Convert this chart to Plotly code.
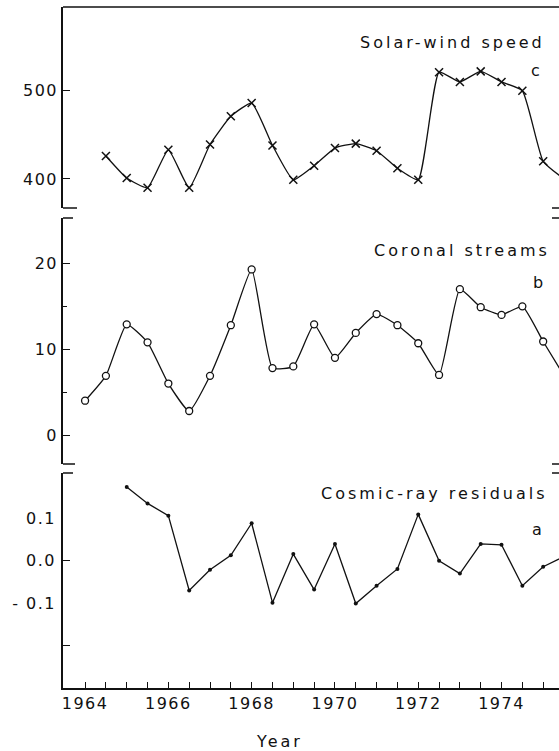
import plotly.graph_objects as go

# ---------------- data ----------------
solar_years = [1964.5, 1965.0, 1965.5, 1966.0, 1966.5, 1967.0, 1967.5, 1968.0, 1968.5,
               1969.0, 1969.5, 1970.0, 1970.5, 1971.0, 1971.5, 1972.0, 1972.5, 1973.0,
               1973.5, 1974.0, 1974.5, 1975.0, 1975.5]
solar_speed = [426, 401, 390, 433, 390, 439, 471, 486, 438,
               399, 415, 435, 440, 432, 412, 399, 521, 510,
               522, 510, 500, 420, 400]

coronal_years = [1964.0, 1964.5, 1965.0, 1965.5, 1966.0, 1966.5, 1967.0, 1967.5, 1968.0,
                 1968.5, 1969.0, 1969.5, 1970.0, 1970.5, 1971.0, 1971.5, 1972.0, 1972.5,
                 1973.0, 1973.5, 1974.0, 1974.5, 1975.0, 1975.5]
coronal_streams = [4.0, 6.9, 12.9, 10.8, 6.0, 2.8, 6.9, 12.8, 19.3,
                   7.8, 8.0, 12.9, 9.0, 11.9, 14.1, 12.8, 10.7, 7.0,
                   17.0, 14.9, 14.0, 15.0, 10.9, 6.9]

cosmic_years = [1965.0, 1965.5, 1966.0, 1966.5, 1967.0, 1967.5, 1968.0, 1968.5, 1969.0,
                1969.5, 1970.0, 1970.5, 1971.0, 1971.5, 1972.0, 1972.5, 1973.0, 1973.5,
                1974.0, 1974.5, 1975.0, 1975.5]
cosmic_residuals = [0.175, 0.136, 0.107, -0.070, -0.021, 0.013, 0.089, -0.099, 0.016,
                    -0.068, 0.040, -0.101, -0.059, -0.019, 0.110, 0.000, -0.030, 0.040,
                    0.038, -0.059, -0.014, 0.010]

x_tickvals = [1964 + 0.5 * i for i in range(24)]
x_labels = ["1964", "1966", "1968", "1970", "1972", "1974"]

solar_ticks = [400, 500]
coronal_ticks = [0, 10, 20]
coronal_minor = [5, 15]
cosmic_tick_marks = [-0.2, 0.0]
cosmic_label_vals = [-0.1, 0.0, 0.1]
cosmic_label_text = ["- 0.1", "0.0", "0.1"]

FONT = "DejaVu Sans"
INK = "#111111"
TS = '<span style="letter-spacing:1.5px">%s</span>'
AS = '<span style="letter-spacing:3px">%s</span>'

def tlab(v):
    s = str(int(v)) if v == int(v) else str(v)
    return TS % s

x_ticktext = [TS % str(int(v)) if (v == int(v) and str(int(v)) in x_labels) else ""
              for v in x_tickvals]

fig = go.Figure()

fig.add_trace(go.Scatter(
    x=solar_years, y=solar_speed, xaxis="x", yaxis="y3", mode="lines+markers",
    line=dict(color=INK, width=1.3, shape="spline", smoothing=0.45),
    marker=dict(symbol="x-thin", size=8, line=dict(color=INK, width=1.5)),
    showlegend=False, cliponaxis=True))

fig.add_trace(go.Scatter(
    x=coronal_years, y=coronal_streams, xaxis="x", yaxis="y2", mode="lines+markers",
    line=dict(color=INK, width=1.3, shape="spline", smoothing=0.45),
    marker=dict(symbol="circle", size=7, color="white", line=dict(color=INK, width=1.3)),
    showlegend=False, cliponaxis=True))

fig.add_trace(go.Scatter(
    x=cosmic_years, y=cosmic_residuals, xaxis="x", yaxis="y", mode="lines+markers",
    line=dict(color=INK, width=1.3),
    marker=dict(symbol="circle", size=4, color=INK),
    showlegend=False, cliponaxis=True))

# invisible companion on the label-only overlay axis of the cosmic-ray panel
fig.add_trace(go.Scatter(
    x=cosmic_years, y=cosmic_residuals, xaxis="x", yaxis="y4", mode="markers",
    marker=dict(size=1, opacity=0), hoverinfo="skip", showlegend=False))

PW, PH = 496.0, 681.0
def px_x(p):
    return (p - 63) / PW
def px_y(p):
    return (688 - p) / PH

d_top = [px_y(208), 1.0]
d_mid = [px_y(464), px_y(218)]
d_bot = [0.0, px_y(473)]

TF = dict(family=FONT, size=16, color=INK)
yax_common = dict(showline=True, linecolor=INK, linewidth=1.5, ticks="inside", ticklen=7,
                  tickwidth=1.3, tickcolor=INK, showgrid=False, zeroline=False,
                  tickfont=TF, anchor="x")

cosmic_range = [-0.301, 0.208]

fig.update_layout(
    width=559, height=751,
    margin=dict(l=63, r=0, t=7, b=63),
    paper_bgcolor="white", plot_bgcolor="white",
    font=dict(family=FONT, color=INK),
    xaxis=dict(range=[1963.47, 1975.38], showline=True, linecolor=INK, linewidth=1.5,
               ticks="inside", ticklen=6, tickwidth=1.3, tickcolor=INK,
               tickvals=x_tickvals, ticktext=x_ticktext, showgrid=False, zeroline=False,
               tickfont=TF, anchor="y"),
    yaxis=dict(domain=d_bot, range=cosmic_range,
               tickvals=cosmic_tick_marks, ticktext=["" for _ in cosmic_tick_marks],
               **yax_common),
    yaxis2=dict(domain=d_mid, range=[-3.38, 25.3],
                tickvals=coronal_ticks, ticktext=[tlab(v) for v in coronal_ticks],
                minor=dict(tickvals=coronal_minor, ticks="inside", ticklen=4, tickcolor=INK),
                **yax_common),
    yaxis3=dict(domain=d_top, range=[367, 595],
                tickvals=solar_ticks, ticktext=[tlab(v) for v in solar_ticks],
                **yax_common),
    yaxis4=dict(overlaying="y", anchor="x", side="left", range=cosmic_range,
                tickvals=cosmic_label_vals,
                ticktext=[TS % t for t in cosmic_label_text],
                ticks="", showline=False, showgrid=False, zeroline=False,
                tickfont=TF, ticklabelstandoff=6),
)

shapes = []
shapes.append(dict(type="line", xref="paper", yref="paper", x0=0, x1=1, y0=1, y1=1,
                   line=dict(color=INK, width=1.5)))
for yv, ln in [(208, 14), (218, 10), (464, 12), (473, 10)]:
    shapes.append(dict(type="line", xref="paper", yref="paper", x0=0, x1=ln / PW,
                       y0=px_y(yv), y1=px_y(yv), line=dict(color=INK, width=1.5)))
    shapes.append(dict(type="line", xref="paper", yref="paper", x0=1 - 7 / PW, x1=1,
                       y0=px_y(yv), y1=px_y(yv), line=dict(color=INK, width=1.5)))
fig.update_layout(shapes=shapes)

def lab(text, xp, yp, anchor="right", size=16):
    return dict(text=text, xref="paper", yref="paper", x=px_x(xp), y=px_y(yp),
                xanchor=anchor, yanchor="middle", showarrow=False,
                font=dict(family=FONT, size=size, color=INK))

fig.update_layout(annotations=[
    lab(AS % "Solar-wind speed", 547, 43),
    lab("c", 535, 70, "center"),
    lab(AS % "Coronal streams", 552, 250),
    lab("b", 538, 282, "center"),
    lab(AS % "Cosmic-ray residuals", 550, 493),
    lab("a", 537, 529, "center"),
    lab(AS % "Year", 279, 741, "center"),
])

fig.write_html("out.html")
